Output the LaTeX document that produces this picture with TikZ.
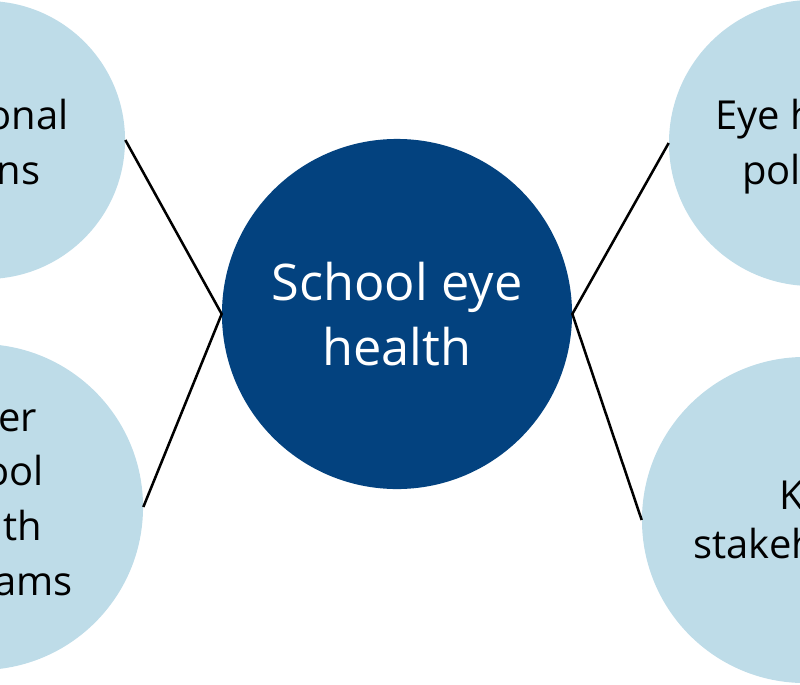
\documentclass[tikz,border=0pt]{standalone}
\usepackage{fontspec}
\setmainfont{Open Sans}
\definecolor{navy}{HTML}{03427F}
\definecolor{paleblue}{HTML}{BEDCE8}
\begin{document}
\begin{tikzpicture}[x=0.025cm, y=-0.025cm,
  hub/.style = {circle, fill=navy, text=white, inner sep=0pt, align=center,
    minimum size=8.75cm, font=\fontsize{35.9}{46}\selectfont},
  topic/.style = {circle, fill=paleblue, inner sep=0pt},
  topictext/.style = {align=center, inner sep=0pt,
    font=\fontsize{28.4}{39}\selectfont},
  link/.style = {line width=1.8pt}]
\useasboundingbox (0,0) rectangle (800,684);
\clip (0,0) rectangle (800,684);
\path (397,314) node[hub] (S) {School eye\\health};
% left side
\path (-14,140) node[topic, minimum size=6.95cm] (N) {};
\path (N) ++(4,7) node[topictext] (Nt) {National\\plans};
\path (-20,507) node[topic, minimum size=8.15cm] (O) {};
\path (O) ++(3,-4) node[topictext] (Ot) {Other\\school\\health\\programs};
% right side
\path (812,143) node[topic, minimum size=7.15cm] (E) {};
\path (E) ++(0,4) node[topictext] (Et) {Eye health\\policies};
\path (805,520) node[topic, minimum size=8.15cm] (K) {};
\path (K) ++(8,0) node[topictext,
  font=\fontsize{28.4}{35.4}\selectfont] (Kt) {Key\\stakeholders};
\draw[link] (N.east) -- (S.west) -- (O.east);
\draw[link] (E.west) -- (S.east) -- (K.west);
\end{tikzpicture}
\end{document}
